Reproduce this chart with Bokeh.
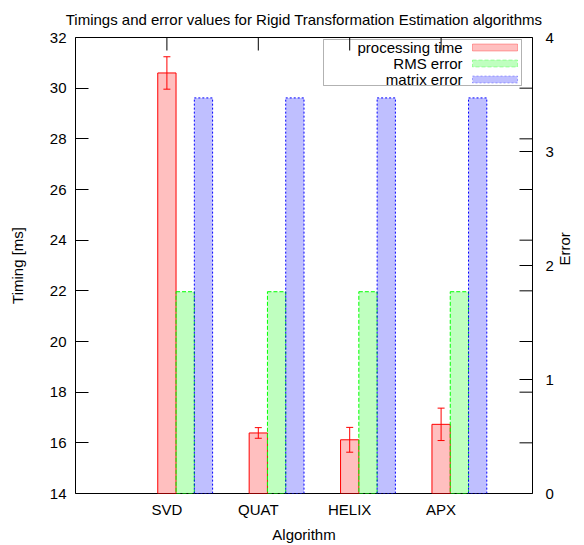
import math
from bokeh.plotting import figure
from bokeh.models import (Range1d, LinearAxis, FixedTicker, Whisker, TeeHead,
                          ColumnDataSource, BoxAnnotation, Label)
from bokeh.embed import file_html
from bokeh.resources import INLINE

# ---------------- data ----------------
algorithms = ["SVD", "QUAT", "HELIX", "APX"]
proc_time = [30.6, 16.39, 16.12, 16.73]
proc_time_err = [0.64, 0.21, 0.49, 0.64]
rms_error = [1.77, 1.77, 1.77, 1.77]
matrix_error = [3.47, 3.47, 3.47, 3.47]
series_names = ["processing time", "RMS error", "matrix error"]
y_ticks = [14, 16, 18, 20, 22, 24, 26, 28, 30, 32]
y2_ticks = [0, 1, 2, 3, 4]

FONT = "Liberation Sans"
FS = "15px"
Y_MIN, Y_MAX = y_ticks[0], y_ticks[-1]
Y2_MIN, Y2_MAX = y2_ticks[0], y2_ticks[-1]
X_MIN, X_MAX = 0, len(algorithms) + 1
BAR_W = 0.2
TICK_LEN = 13

positions = [i + 1 for i in range(len(algorithms))]
src = ColumnDataSource(dict(
    x=positions,
    x_rms=[v + BAR_W for v in positions],
    x_mat=[v + 2 * BAR_W for v in positions],
    time=proc_time,
    lower=[t - e for t, e in zip(proc_time, proc_time_err)],
    upper=[t + e for t, e in zip(proc_time, proc_time_err)],
    rms=rms_error,
    mat=matrix_error,
))

p = figure(width=584, height=545, output_backend="svg", toolbar_location=None,
           x_range=Range1d(X_MIN, X_MAX), y_range=Range1d(Y_MIN, Y_MAX),
           min_border_left=75, min_border_right=49, min_border_top=37,
           min_border_bottom=48)
p.extra_y_ranges = {"y2": Range1d(Y2_MIN, Y2_MAX)}
p.grid.visible = False
p.background_fill_color = "white"
p.border_fill_color = "white"
p.outline_line_color = "black"
p.outline_line_alpha = 1.0
p.outline_line_width = 1

p.title.text = "Timings and error values for Rigid Transformation Estimation algorithms"
p.title.align = "center"
p.title.vertical_align = "top"
p.title.text_font = FONT
p.title.text_font_size = FS
p.title.text_font_style = "normal"
p.title.text_color = "black"
p.title.standoff = 15

# bars
p.vbar(x="x", top="time", bottom=Y_MIN, width=BAR_W, source=src,
       fill_color="#ff0000", fill_alpha=0.25, line_color="#ff0000", line_width=1)
p.vbar(x="x_rms", top="rms", bottom=Y2_MIN, width=BAR_W, source=src, y_range_name="y2",
       fill_color="#00ff00", fill_alpha=0.25, line_color="#00ff00", line_width=1,
       line_dash="4 2")
p.vbar(x="x_mat", top="mat", bottom=Y2_MIN, width=BAR_W, source=src, y_range_name="y2",
       fill_color="#0000ff", fill_alpha=0.25, line_color="#0000ff", line_width=1,
       line_dash="2 2")

wh = Whisker(source=src, base="x", upper="upper", lower="lower", line_color="#ff0000",
             line_width=1,
             upper_head=TeeHead(size=7, line_color="#ff0000", line_width=1),
             lower_head=TeeHead(size=7, line_color="#ff0000", line_width=1),
             level="annotation")
p.add_layout(wh)

# mirrored ticks (right side for left axis, top for categories)
inner = y_ticks[1:-1]
p.ray(x=[X_MAX] * len(inner), y=inner, length=TICK_LEN, length_units="screen",
      angle=math.pi, line_color="black", line_width=1)
p.ray(x=positions, y=[Y_MAX] * len(positions), length=TICK_LEN, length_units="screen",
      angle=-math.pi / 2, line_color="black", line_width=1, level="overlay")


def style_axis(ax):
    ax.axis_line_color = None
    ax.minor_tick_line_color = None
    ax.major_tick_line_color = "black"
    ax.major_label_text_font = FONT
    ax.major_label_text_font_size = FS
    ax.major_label_text_color = "black"
    ax.axis_label_text_font = FONT
    ax.axis_label_text_font_size = FS
    ax.axis_label_text_font_style = "normal"
    ax.axis_label_text_color = "black"


# left axis
ly = p.left[0]
style_axis(ly)
ly.ticker = FixedTicker(ticks=y_ticks)
ly.major_tick_in = TICK_LEN
ly.major_tick_out = 0
ly.major_label_standoff = 9
ly.axis_label = "Timing [ms]"
ly.axis_label_standoff = 21

# bottom axis
bx = p.below[0]
style_axis(bx)
bx.ticker = FixedTicker(ticks=positions)
bx.major_label_overrides = {v: a for v, a in zip(positions, algorithms)}
bx.major_tick_in = 0
bx.major_tick_out = 0
bx.major_label_standoff = 7
bx.axis_label = "Algorithm"
bx.axis_label_standoff = 5

# right axis
ry = LinearAxis(y_range_name="y2", ticker=FixedTicker(ticks=y2_ticks))
style_axis(ry)
ry.major_tick_in = TICK_LEN
ry.major_tick_out = 0
ry.major_label_standoff = 13
ry.axis_label = "Error"
ry.axis_label_standoff = 8
try:
    ry.axis_label_orientation = math.pi / 2
except Exception:
    pass
p.add_layout(ry, "right")

# legend (gnuplot style: text then sample)
p.add_layout(BoxAnnotation(left=248, right=446, bottom=408, top=454,
                           left_units="screen", right_units="screen",
                           bottom_units="screen", top_units="screen",
                           fill_color=None, line_color="black", line_width=1,
                           level="overlay"))
leg_styles = [("#ff0000", "solid"), ("#00ff00", "4 2"), ("#0000ff", "2 2")]
for k, (name, (col, dash)) in enumerate(zip(series_names, leg_styles)):
    yc = 446 - 16 * k
    p.add_layout(BoxAnnotation(left=397, right=442, bottom=yc - 3.5, top=yc + 3.5,
                               left_units="screen", right_units="screen",
                               bottom_units="screen", top_units="screen",
                               fill_color=col, fill_alpha=0.25, line_color=col,
                               line_width=1, line_dash=dash, level="overlay"))
    p.add_layout(Label(x=387, y=yc, x_units="screen", y_units="screen", text=name,
                       text_align="right", text_baseline="middle",
                       text_font=FONT, text_font_size=FS, text_color="black"))

open("out.html", "w").write(file_html(p, INLINE))
